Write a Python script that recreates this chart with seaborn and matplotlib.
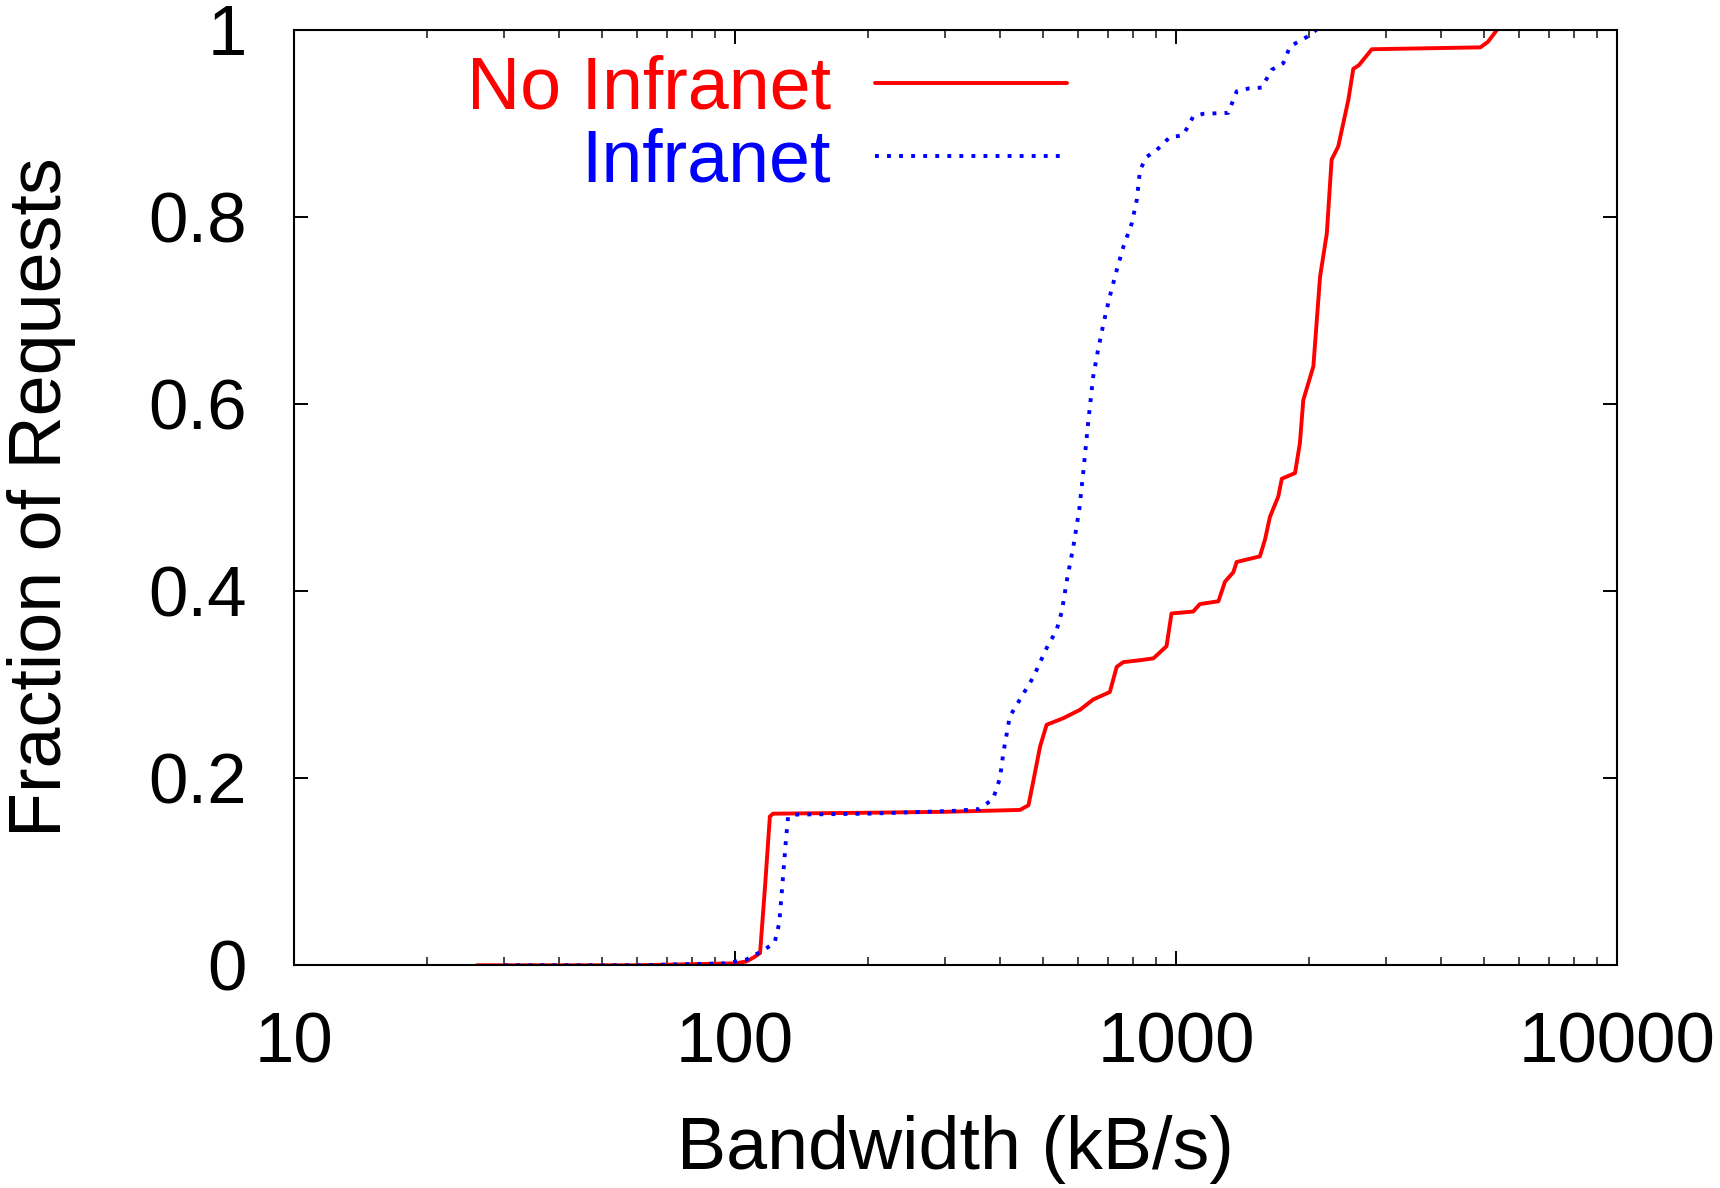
import matplotlib
matplotlib.use("Agg")
import matplotlib.pyplot as plt
import matplotlib.ticker as mticker
import seaborn as sns
import pandas as pd

# CDF of per-request bandwidth
no_infranet_bw = [26, 60, 100, 106, 110, 114, 117, 120, 122, 200, 300, 443, 463, 474, 492,
                  509, 555, 606, 649, 708, 734, 760, 829, 889, 952, 977, 1094, 1133, 1248,
                  1292, 1349, 1373, 1550, 1592, 1633, 1706, 1738, 1862, 1910, 1944, 2049,
                  2122, 2198, 2254, 2333, 2460, 2524, 2600, 2780, 4900, 5100, 5350]
no_infranet_frac = [0, 0, 0.002, 0.004, 0.008, 0.013, 0.084, 0.159, 0.162, 0.163, 0.164, 0.166,
                    0.171, 0.195, 0.234, 0.257, 0.264, 0.273, 0.284, 0.292, 0.319, 0.324, 0.326,
                    0.328, 0.341, 0.376, 0.378, 0.386, 0.389, 0.410, 0.420, 0.431, 0.437, 0.455,
                    0.479, 0.501, 0.520, 0.526, 0.558, 0.604, 0.640, 0.736, 0.782, 0.861, 0.875,
                    0.925, 0.958, 0.962, 0.979, 0.981, 0.987, 1.0]

infranet_bw = [30, 60, 95, 106, 116, 123, 126, 128, 130.5, 132, 136, 200, 313, 359, 385, 399,
               406, 420, 435, 475, 509, 536, 551, 567, 585, 604, 616, 632, 649, 666, 685, 708,
               734, 760, 794, 815, 829, 858, 903, 968, 1038, 1094, 1153, 1314, 1373, 1460,
               1565, 1648, 1751, 1814, 2013, 2083]
infranet_frac = [0, 0, 0.002, 0.006, 0.016, 0.024, 0.045, 0.084, 0.134, 0.159, 0.161, 0.162,
                 0.165, 0.167, 0.178, 0.200, 0.227, 0.266, 0.278, 0.308, 0.339, 0.358, 0.378,
                 0.414, 0.447, 0.488, 0.526, 0.579, 0.629, 0.658, 0.686, 0.715, 0.743, 0.768,
                 0.793, 0.818, 0.850, 0.864, 0.871, 0.885, 0.887, 0.907, 0.910, 0.911, 0.934,
                 0.937, 0.938, 0.957, 0.964, 0.982, 0.994, 1.0]

x_ticks = [10, 100, 1000, 10000]
y_ticks = [0, 0.2, 0.4, 0.6, 0.8, 1]
y_tick_labels = ["0", "0.2", "0.4", "0.6", "0.8", "1"]

sns.set_style("ticks")
plt.rcParams["font.family"] = ["Liberation Sans", "DejaVu Sans"]

df_no = pd.DataFrame({"bw": no_infranet_bw, "frac": no_infranet_frac})
df_in = pd.DataFrame({"bw": infranet_bw, "frac": infranet_frac})

fig = plt.figure(figsize=(17.2, 11.88), dpi=100)
ax = fig.add_axes([0.1709, 0.1875, 0.9401 - 0.1709, 0.9751 - 0.1875])

sns.lineplot(data=df_no, x="bw", y="frac", ax=ax, color="#ff0000", lw=2.8,
             label="No Infranet", sort=False, estimator=None)
sns.lineplot(data=df_in, x="bw", y="frac", ax=ax, color="#0000ff", lw=2.8,
             label="Infranet", sort=False, estimator=None)
ax.lines[1].set_linestyle((0, (1.0, 2.1)))

ax.set_xscale("log")
ax.set_xlim(10, 10000)
ax.set_ylim(0, 1)
ax.set_xticks(x_ticks)
ax.xaxis.set_major_formatter(mticker.FuncFormatter(lambda v, p: f"{v:g}"))
ax.xaxis.set_minor_locator(mticker.LogLocator(base=10, subs=range(2, 10)))
ax.xaxis.set_minor_formatter(mticker.NullFormatter())
ax.set_yticks(y_ticks)
ax.set_yticklabels(y_tick_labels)

for side in ["top", "right", "bottom", "left"]:
    ax.spines[side].set_visible(True)
    ax.spines[side].set_linewidth(1.5)
    ax.spines[side].set_color("black")

ax.tick_params(axis="both", which="major", direction="in", length=10, width=1.4,
               top=True, right=True, labelsize=51, colors="black")
ax.tick_params(axis="x", which="major", pad=33)
ax.tick_params(axis="y", which="major", pad=34)
ax.tick_params(axis="x", which="minor", direction="in", length=5.5, width=1.2,
               top=True, bottom=True)

ax.set_xlabel("Bandwidth (kB/s)", fontsize=53, labelpad=27, color="black")
ax.set_ylabel("Fraction of Requests", fontsize=53, labelpad=52, color="black")

leg = ax.legend(loc="upper right", bbox_to_anchor=(0.584, 0.973), frameon=False,
                markerfirst=False, fontsize=53, handlelength=2.6, handletextpad=0.6,
                borderaxespad=0, borderpad=0, labelspacing=0.05, labelcolor="linecolor")

fig.savefig("out.png", dpi=100)
